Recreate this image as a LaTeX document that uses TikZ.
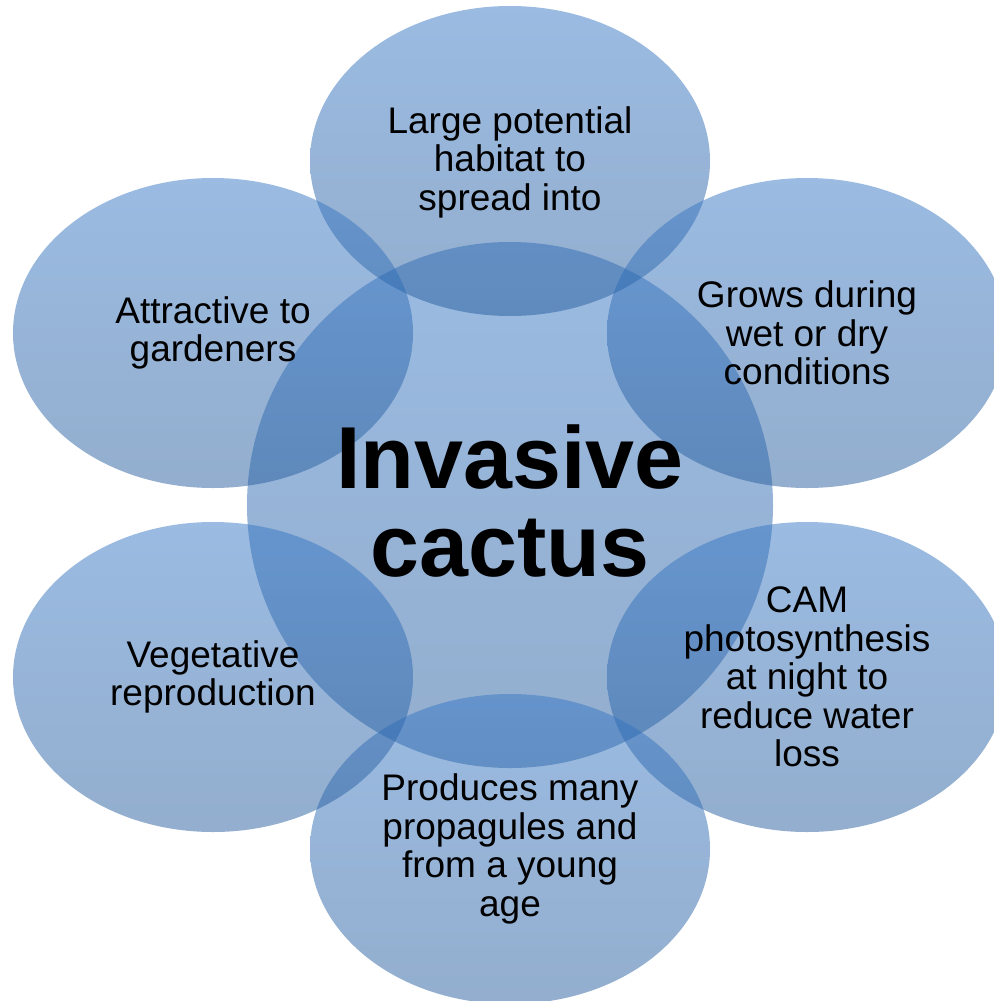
\documentclass[tikz,border=0pt]{standalone}
\usepackage{fontspec}
\setmainfont{Liberation Sans}
\usetikzlibrary{shapes.geometric}

\definecolor{bubTop}{RGB}{55,119,197}
\definecolor{bubBot}{RGB}{39,93,157}

\tikzset{
  bubble/.style={ellipse, top color=bubTop, bottom color=bubBot, fill opacity=0.5,
    draw=none, inner sep=0pt, minimum width=400bp, minimum height=310bp},
  hub/.style={circle, top color=bubTop, bottom color=bubBot, fill opacity=0.5,
    draw=none, inner sep=0pt, minimum size=526bp},
  blurb/.style={align=center, text=black, inner sep=0pt,
    font=\fontsize{37bp}{38.5bp}\selectfont},
  title/.style={align=center, text=black, inner sep=0pt,
    font=\fontsize{88bp}{88bp}\selectfont\bfseries}
}

\begin{document}
\begin{tikzpicture}[x=1bp,y=-1bp]

\useasboundingbox (0,0) rectangle (994,1001);
\clip (0,0) rectangle (994,1001);

% the hub and the six bubbles round it
\node[hub] (hub) at (510,505) {};
\node[bubble] (top) at (510,161) {};
\node[bubble] (topR) at (807,333) {};
\node[bubble] (botR) at (807,677) {};
\node[bubble] (bot) at (510,849) {};
\node[bubble] (botL) at (213,677) {};
\node[bubble] (topL) at (213,333) {};

% texts on top of all shapes
\node[title] (hubTxt) at ([yshift=4bp]hub) {Invasive\\cactus};
\node[blurb] (topTxt) at ([yshift=-1bp]top) {Large potential\\habitat to\\spread into};
\node[blurb] (topRTxt) at (topR) {Grows during\\wet or dry\\conditions};
\node[blurb] (botRTxt) at (botR) {CAM\\photosynthesis\\at night to\\reduce water\\loss};
\node[blurb] (botTxt) at (bot) {Produces many\\propagules and\\from a young\\age};
\node[blurb] (botLTxt) at (botL) {Vegetative\\reproduction};
\node[blurb] (topLTxt) at (topL) {Attractive to\\gardeners};

\end{tikzpicture}
\end{document}
